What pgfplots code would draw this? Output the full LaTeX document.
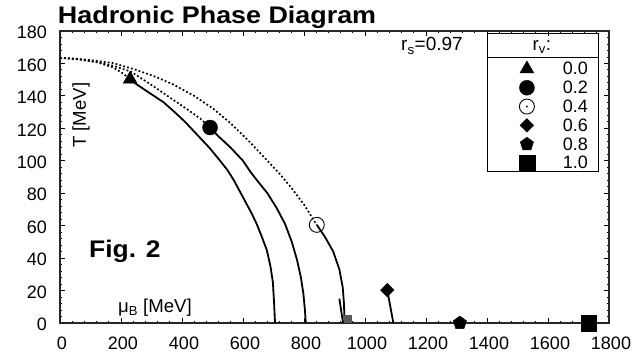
\documentclass[border=0pt]{standalone}
\usepackage{fontspec}
\setmainfont{Liberation Sans}
\usepackage{pgfplots}
\pgfplotsset{compat=1.18}
\newcommand\fs[1]{\fontsize{#1bp}{#1bp}\selectfont}
\pgfplotsset{
  dotl/.style={black, line width=1.7bp, dash pattern=on 1.8bp off 2.2bp, forget plot, mark=none},
  soll/.style={black, line width=1.8bp, forget plot, mark=none, line join=round},
  mk/.style={only marks, mark options={solid, fill=black, draw=black},
    legend image code/.code={\path[draw=none, fill=none] (-39.3bp,-9.4bp) rectangle (31bp,9.4bp);
      \draw[##1,only marks] plot coordinates {(0bp,0bp)};}},
  mko/.style={legend image code/.code={\path[draw=none, fill=none] (-39.3bp,-9.4bp) rectangle (31bp,9.4bp);
      \draw[##1,only marks] plot coordinates {(0bp,0bp)}; \fill[black] (0bp,0bp) circle (0.7bp);}},
}
\begin{document}
\begin{tikzpicture}
\useasboundingbox (-60bp,-33bp) rectangle (573bp,323bp);
\begin{axis}[
  at={(0,0)}, anchor=south west,
  scale only axis, width=549bp, height=292bp,
  xmin=0, xmax=1800, ymin=0, ymax=180,
  xtick={0,200,...,1800}, ytick={0,20,...,180},
  minor x tick num=4, minor y tick num=4,
  tick align=inside, tick pos=both,
  major tick length=5bp, minor tick length=2.5bp,
  every tick/.append style={black, line width=0.9bp},
  axis line style={line width=1.4bp, black!85},
  clip=false,
  scaled x ticks=false, scaled y ticks=false,
  /pgf/number format/assume math mode=true,
  /pgf/number format/set thousands separator={},
  tick label style={font=\fs{18}, inner sep=0pt},
  xticklabel style={anchor=north, yshift=-14bp, xshift=2bp},
  yticklabel style={anchor=east, xshift=-13bp, yshift=-1.5bp},
  legend cell align=right,
  legend style={at={(axis cs:1402,162.4)}, anchor=north west, draw=none, fill=none,
    inner sep=0pt, outer sep=0pt, row sep=0pt, column sep=0pt, cells={anchor=east},
    nodes={inner sep=0pt, text width=30bp, align=right, text height=12bp, text depth=0pt, font=\fs{18}}},
]
% dotted curves
\addplot[dotl] coordinates {(0,163.5)(60,162.8)(120,161.6)(175,160.2)(250,156)(310,152)(372,147)(440,140)(503,132)(560,123)(620,112)(675,101)(720,92)(760,83)(800,73)(830,64)(842,60.5)};
\addplot[dotl] coordinates {(0,163.5)(60,162.6)(120,161)(175,158.5)(232,155)(306,146)(360,139)(415,132)(460,126)(492,120.5)};
\addplot[dotl] coordinates {(0,163.5)(60,162.5)(120,160.8)(175,157.5)(205,154)(230,150.3)};
% solid curves
\addplot[soll] coordinates {(230,150)(260,146)(300,141)(340,136)(370,131)(410,124)(450,116)(490,108)(525,100)(550,94)(570,88)(590,81)(610,74)(630,67)(645,61)(662,53)(678,45)(690,35)(698,25)(702,12)(705,0)};
\addplot[soll] coordinates {(492,120.5)(520,115)(560,108)(600,100)(625,93)(650,87)(680,80)(710,71)(738,61)(760,50)(777,39)(790,28)(798,18)(803,8)(806,0)};
\addplot[soll] coordinates {(842,60.5)(869,53)(896,44)(916,33)(927,22)(931,12)(933,0)};
\addplot[soll] coordinates {(916,15)(928,0)};
\addplot[soll] coordinates {(1073,20.3)(1093,0)};
% small grey square
\addplot[only marks, forget plot, mark=square*, mark size=3.2bp, mark options={fill=black!65, draw=black!65}] coordinates {(943,2.6)};
% markers
\addplot[mk, mark=triangle*, mark size=8bp] coordinates {(230,150.3)};
\addplot[mk, mark=*, mark size=7.5bp] coordinates {(492,120.5)};
\addplot[mk, mko, mark=o, mark size=7.5bp, mark options={solid, draw=black, fill=none, line width=0.9bp}] coordinates {(842,60.5)};
\addplot[mk, mark=square*, mark size=4.8bp, mark options={solid, fill=black, draw=black, rotate=45}] coordinates {(1073,20.3)};
\addplot[mk, mark=pentagon*, mark size=7bp] coordinates {(1311,0)};
\addplot[mk, mark=square*, mark size=7.8bp] coordinates {(1733,0)};
\legend{0.0,0.2,0.4,0.6,0.8,1.0}
% legend frame
\draw[line width=1bp] (axis cs:1402,178.3) rectangle (axis cs:1764,93.4);
\draw[line width=1bp] (axis cs:1402,163.4) -- (axis cs:1764,163.4);
\node[anchor=base, inner sep=0pt, font=\fs{18.6}] at (axis cs:1580,167.7) {r\textsubscript{v}:};
% texts
\node[anchor=base west, inner sep=0pt, font=\bfseries\fs{24}, xscale=1.12, xshift=-2bp, yshift=7bp] at (rel axis cs:0,1) {Hadronic Phase Diagram};
\node[anchor=base west, inner sep=0pt, font=\bfseries\fs{24}, xscale=1.1] at (axis cs:95,40.2) {Fig. 2};
\node[anchor=base west, inner sep=0pt, font=\fs{19}] at (axis cs:1118,167.7) {r\textsubscript{s}=0.97};
\node[anchor=base, rotate=90, inner sep=0pt, font=\fs{18.6}] at (axis cs:85,128) {T [MeV]};
\node[anchor=base west, inner sep=0pt, font=\fs{18.6}] at (axis cs:190,6.3) {μ\textsubscript{B} [MeV]};
\end{axis}
\end{tikzpicture}
\end{document}
